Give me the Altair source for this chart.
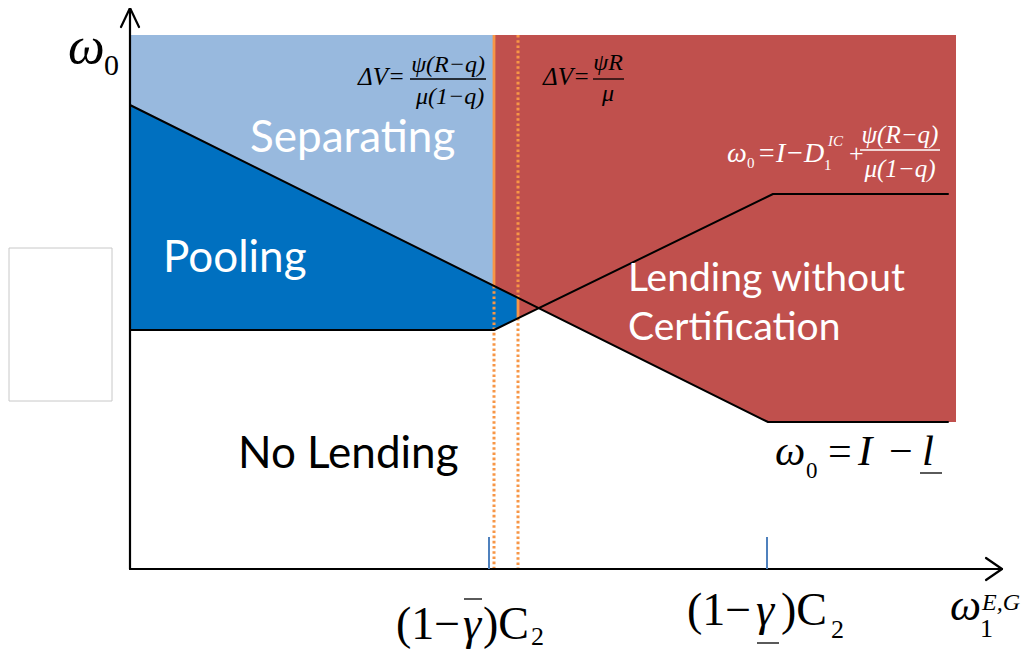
import altair as alt
import pandas as pd

# ---------------- data (diagram units, origin at the axes' crossing) ----------------
# region boundaries
light_x = [0, 364]
light_lo = [464, 283]
light_hi = [534, 534]

dark_x = [0, 364, 388]
dark_lo = [239, 239, 251]
dark_hi = [464, 283, 271]

red_x = [364, 409, 638, 826]
red_lo = [239, 261, 147, 147]
red_hi = [534, 534, 534, 534]

# boundary curves
desc_x = [0, 638, 818]
desc_y = [464, 147, 147]
rise_x = [0, 364, 643, 818]
rise_y = [239, 239, 375, 375]

# axes
yaxis_x = [0, 0]
yaxis_y = [0, 561]
yarrow_x = [-9, 0, 9]
yarrow_y = [542, 561, 542]
xaxis_x = [0, 872]
xaxis_y = [0, 0]
xarrow_x = [856, 872, 856]
xarrow_y = [11, 0, -11]

# thresholds (orange verticals)
solid_x = [364, 388]
solid_y1 = [534, 271]
solid_y2 = [283, 251]
dotted_x = [364, 388, 388]
dotted_y1 = [283, 534, 251]
dotted_y2 = [0, 271, 0]

# tick marks on the horizontal axis
tick_x = [359, 637]
tick_y1 = [0, 0]
tick_y2 = [32, 32]

# stray frame on the left
frame_x = [-121]
frame_x2 = [-18]
frame_y = [168]
frame_y2 = [321]

# fraction bars, over/underlines
bar_x1 = [280, 463, 730, 790, 334, 627]
bar_x2 = [356, 494, 810, 812, 352, 649]
bar_y = [490, 490, 419, 96, -30, -74]
bar_col = ["black", "black", "white", "black", "black", "black"]

# text pieces: text, x, y, size, color, group
texts = [
    ("Separating", 120, 417, 44, "white", "sans"),
    ("Pooling", 33, 297, 44, "white", "sans"),
    ("Lending without", 498, 278, 39, "white", "sans"),
    ("Certification", 498, 229, 39, "white", "sans"),
    ("No Lending", 108, 101, 44, "black", "sans"),
    # eq 1
    ("ΔV=", 228, 484, 25, "black", "it"),
    ("ψ(R−q)", 318, 497, 24, "black", "itc"),
    ("μ(1−q)", 320, 465, 24, "black", "itc"),
    # eq 2
    ("ΔV=", 413, 484, 25, "black", "it"),
    ("ψR", 478, 499, 24, "black", "itc"),
    ("μ", 478, 468, 24, "black", "itc"),
    # eq 3
    ("ω", 597, 407, 28, "white", "it"),
    ("0", 617, 401, 15, "white", "up"),
    ("=I−D", 627, 407, 28, "white", "it"),
    ("1", 694, 399, 15, "white", "up"),
    ("IC", 698, 423, 15, "white", "it"),
    ("+", 719, 407, 26, "white", "up"),
    ("ψ(R−q)", 770, 426, 25, "white", "itc"),
    ("μ(1−q)", 770, 392, 25, "white", "itc"),
    # big eq
    ("ω", 645, 104, 43, "black", "it"),
    ("0", 676, 91, 23, "black", "up"),
    ("=", 698, 104, 42, "black", "up"),
    ("I", 728, 104, 43, "black", "it"),
    ("−", 759, 104, 42, "black", "up"),
    ("l", 792, 104, 43, "black", "it"),
    # axis labels
    ("ω", -62, 506, 52, "black", "it"),
    ("0", -26, 494, 30, "black", "up"),
    ("ω", 820, -51, 44, "black", "it"),
    ("1", 850, -68, 26, "black", "up"),
    ("E,G", 852, -41, 24, "black", "it"),
    # tick labels
    ("(1−", 266, -70, 46, "black", "up"),
    ("γ", 333, -70, 46, "black", "it"),
    (")C", 353, -70, 46, "black", "up"),
    ("2", 401, -76, 26, "black", "up"),
    ("(1−", 557, -56, 46, "black", "up"),
    ("γ", 626, -56, 46, "black", "it"),
    (")C", 651, -56, 46, "black", "up"),
    ("2", 701, -69, 26, "black", "up"),
]

# ---------------- chart ----------------
xs = alt.Scale(domain=[-122, 891], nice=False, zero=False)
ys = alt.Scale(domain=[-81, 561], nice=False, zero=False)


def X(f="x"):
    return alt.X(f"{f}:Q", scale=xs, axis=None)


def Y(f="y"):
    return alt.Y(f"{f}:Q", scale=ys, axis=None)


def area(xv, lo, hi, color):
    df = pd.DataFrame({"x": xv, "y": lo, "y2": hi})
    return alt.Chart(df).mark_area(color=color, opacity=1).encode(
        x=X(), y=Y(), y2="y2:Q"
    )


def lines(segs, width):
    rows = []
    for i, (xv, yv) in enumerate(segs):
        for j, (a, b) in enumerate(zip(xv, yv)):
            rows.append({"x": a, "y": b, "seg": i, "ord": j})
    return alt.Chart(pd.DataFrame(rows)).mark_line(
        color="black", strokeWidth=width, strokeCap="round", strokeJoin="round"
    ).encode(x=X(), y=Y(), detail="seg:N", order="ord:Q")


def vrules(xv, y1, y2, color, width, dash=None):
    df = pd.DataFrame({"x": xv, "y": y1, "y2": y2})
    kw = dict(color=color, strokeWidth=width)
    if dash:
        kw["strokeDash"] = dash
    return alt.Chart(df).mark_rule(**kw).encode(x=X(), y=Y(), y2="y2:Q")


layers = [
    area(red_x, red_lo, red_hi, "#C0504D"),
    area(light_x, light_lo, light_hi, "#98B9DE"),
    area(dark_x, dark_lo, dark_hi, "#0070C0"),
    vrules(solid_x, solid_y1, solid_y2, "#F79646", 2.8),
    vrules(dotted_x, dotted_y1, dotted_y2, "#F79646", 3, [2.6, 2.6]),
    lines([(desc_x, desc_y), (rise_x, rise_y)], 2),
    lines([(yaxis_x, yaxis_y), (yarrow_x, yarrow_y),
           (xaxis_x, xaxis_y), (xarrow_x, xarrow_y)], 2.2),
    vrules(tick_x, tick_y1, tick_y2, "#4F81BD", 2),
    alt.Chart(pd.DataFrame({"x": frame_x, "x2": frame_x2, "y": frame_y, "y2": frame_y2}))
    .mark_rect(fillOpacity=0, stroke="#C8C8C8", strokeWidth=1)
    .encode(x=X(), x2="x2:Q", y=Y(), y2="y2:Q"),
    alt.Chart(pd.DataFrame({"x": bar_x1, "x2": bar_x2, "y": bar_y, "c": bar_col}))
    .mark_rule(strokeWidth=1.3)
    .encode(x=X(), x2="x2:Q", y=Y(), color=alt.Color("c:N", scale=None)),
]

tdf = pd.DataFrame(texts, columns=["t", "x", "y", "s", "c", "g"])
styles = {
    "sans": dict(font="Lato", align="left"),
    "it": dict(font="Liberation Serif", fontStyle="italic", align="left"),
    "itc": dict(font="Liberation Serif", fontStyle="italic", align="center"),
    "up": dict(font="Liberation Serif", align="left"),
}
for g, st in styles.items():
    sub = tdf[tdf.g == g]
    layers.append(
        alt.Chart(sub).mark_text(baseline="alphabetic", **st).encode(
            x=X(), y=Y(), text="t:N",
            size=alt.Size("s:Q", scale=None),
            color=alt.Color("c:N", scale=None),
        )
    )

chart = alt.layer(*layers).properties(
    width=1013, height=642, padding=0,
    autosize=alt.AutoSizeParams(type="none"),
    background="white",
).configure_view(stroke=None)

chart.save("out.html", embed_options={"renderer": "svg", "actions": False})
